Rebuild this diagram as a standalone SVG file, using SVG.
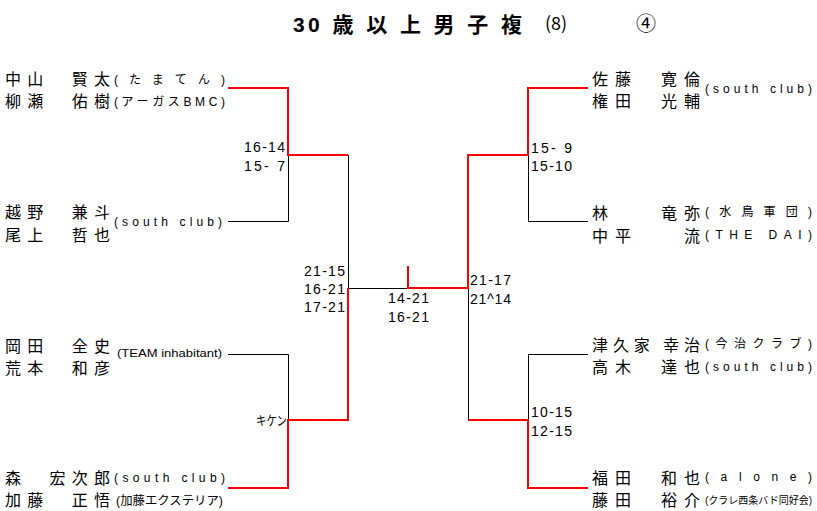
<svg xmlns="http://www.w3.org/2000/svg" width="817" height="511" viewBox="0 0 817 511">
<style>
.nm{font-family:"Noto Sans CJK JP","Liberation Sans",sans-serif;font-size:16px;fill:#000}
.af{font-family:"Liberation Sans","Noto Sans CJK JP",sans-serif;font-size:12px;fill:#000}
.sm{font-family:"Liberation Sans","Noto Sans CJK JP",sans-serif;font-size:10px;fill:#000}
.sc{font-family:"Liberation Sans",sans-serif;font-size:14px;fill:#000}
.kk{font-family:"Noto Sans CJK JP",sans-serif;font-size:13px;fill:#000}
.tt{font-family:"Liberation Sans","Noto Sans CJK JP",sans-serif;font-size:21px;font-weight:bold;fill:#000}
.bk{stroke:#000;stroke-width:1;fill:none}
.rd{stroke:#ff0000;stroke-width:2;fill:none}
</style>
<rect width="817" height="511" fill="#fff"/>
<g id="title">
<text class="tt" x="293" y="32" textLength="229" lengthAdjust="spacing">30 歳 以 上 男 子 複</text>
<text class="nm" x="545" y="30" style="font-size:18px">(8)</text>
<text class="nm" x="636" y="31" style="font-size:20px">④</text>
</g>
<g id="connectors">
<path class="bk" d="M228 221.5H288.5V155 M348.5 155V288.5H408 M228 354.5H288.5V420 M468.5 288V420 M528.5 155V221.5H588 M528.5 354.5H588 M528.5 354V420"/>
<path class="rd" d="M228 88H288V155H348 M348 288V420H288V488H228 M408 266V288H468V155H528V88H588 M468 420H528V488H588"/>
</g>
<g id="l1">
<text class="nm" x="5" y="85" textLength="105" lengthAdjust="spacing">中山　賢太</text>
<text class="nm" x="5" y="107" textLength="105" lengthAdjust="spacing">柳瀬　佑樹</text>
<text class="af" x="114" y="84" textLength="111" lengthAdjust="spacing">(たまてん)</text>
<text class="af" x="114" y="106" textLength="111" lengthAdjust="spacing">(アーガスBMC)</text>
</g>
<g id="l2">
<text class="nm" x="5" y="218" textLength="105" lengthAdjust="spacing">越野　兼斗</text>
<text class="nm" x="5" y="241" textLength="105" lengthAdjust="spacing">尾上　哲也</text>
<text class="af" x="114" y="226" textLength="108" lengthAdjust="spacing">(south club)</text>
</g>
<g id="l3">
<text class="nm" x="5" y="352" textLength="105" lengthAdjust="spacing">岡田　全史</text>
<text class="nm" x="5" y="374" textLength="105" lengthAdjust="spacing">荒本　和彦</text>
<text class="sm" x="117" y="357" textLength="105" lengthAdjust="spacingAndGlyphs">(TEAM inhabitant)</text>
</g>
<g id="l4">
<text class="nm" x="5" y="484" textLength="105" lengthAdjust="spacing">森　宏次郎</text>
<text class="nm" x="5" y="506" textLength="105" lengthAdjust="spacing">加藤　正悟</text>
<text class="af" x="114" y="482" textLength="111" lengthAdjust="spacing">(south club)</text>
<text class="af" x="116" y="505" textLength="107" lengthAdjust="spacingAndGlyphs">(加藤エクステリア)</text>
</g>
<g id="r1">
<text class="nm" x="592" y="85" textLength="108" lengthAdjust="spacing">佐藤　寛倫</text>
<text class="nm" x="592" y="107" textLength="108" lengthAdjust="spacing">権田　光輔</text>
<text class="af" x="705" y="93" textLength="107" lengthAdjust="spacing">(south club)</text>
</g>
<g id="r2">
<text class="nm" x="592" y="219" textLength="108" lengthAdjust="spacing">林　　竜弥</text>
<text class="nm" x="592" y="242" textLength="108" lengthAdjust="spacing">中平　　流</text>
<text class="af" x="705" y="216" textLength="107" lengthAdjust="spacing">(水鳥軍団)</text>
<text class="af" x="705" y="239" textLength="107" lengthAdjust="spacing">(THE DAI)</text>
</g>
<g id="r3">
<text class="nm" x="592" y="351" textLength="108" lengthAdjust="spacing">津久家 幸治</text>
<text class="nm" x="592" y="373" textLength="108" lengthAdjust="spacing">高木　達也</text>
<text class="af" x="705" y="348" textLength="107" lengthAdjust="spacing">(今治クラブ)</text>
<text class="af" x="705" y="371" textLength="107" lengthAdjust="spacing">(south club)</text>
</g>
<g id="r4">
<text class="nm" x="592" y="484" textLength="108" lengthAdjust="spacing">福田　和也</text>
<text class="nm" x="592" y="506" textLength="108" lengthAdjust="spacing">藤田　裕介</text>
<text class="af" x="705" y="481" textLength="107" lengthAdjust="spacing">(alone)</text>
<text class="sm" x="705" y="504" textLength="107" lengthAdjust="spacingAndGlyphs">(クラレ西条バド同好会)</text>
</g>
<g id="scores">
<text class="sc" x="244" y="152" textLength="41">16-14</text>
<text class="sc" x="244" y="171" textLength="41" xml:space="preserve">15- 7</text>
<text class="sc" x="304" y="276" textLength="41">21-15</text>
<text class="sc" x="304" y="294" textLength="41">16-21</text>
<text class="sc" x="304" y="312" textLength="41">17-21</text>
<text class="sc" x="388" y="303" textLength="41">14-21</text>
<text class="sc" x="388" y="322" textLength="41">16-21</text>
<text class="sc" x="470" y="285" textLength="41">21-17</text>
<text class="sc" x="470" y="304" textLength="41">21^14</text>
<text class="sc" x="531" y="153" textLength="41" xml:space="preserve">15- 9</text>
<text class="sc" x="531" y="171" textLength="41">15-10</text>
<text class="kk" x="256" y="425" textLength="31" lengthAdjust="spacingAndGlyphs">キケン</text>
<text class="sc" x="531" y="417" textLength="41">10-15</text>
<text class="sc" x="531" y="436" textLength="41">12-15</text>
</g>
</svg>
